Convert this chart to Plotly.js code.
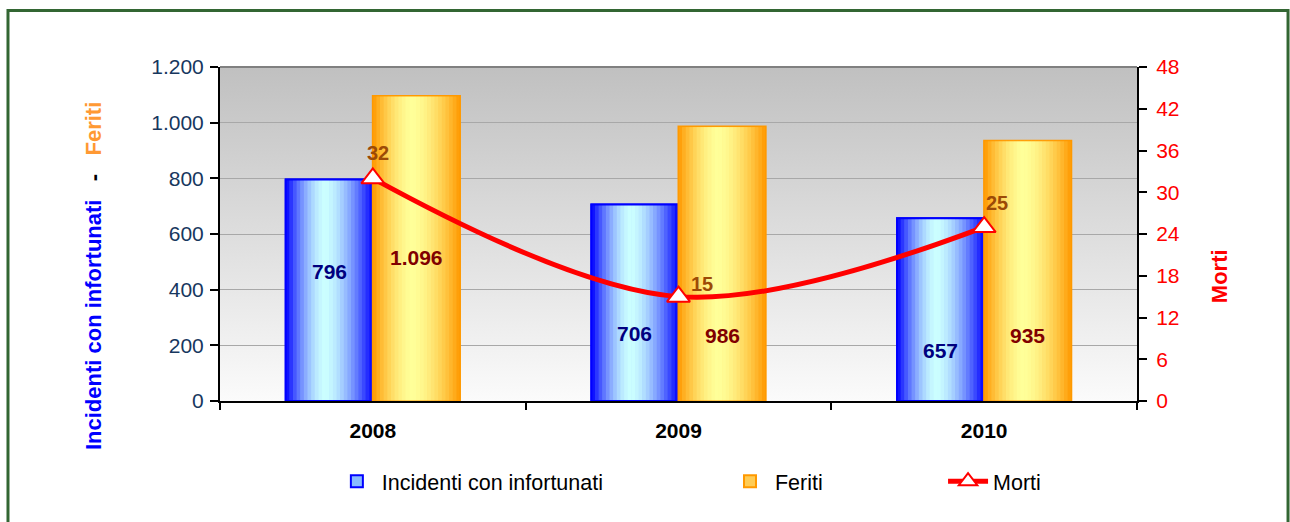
<!DOCTYPE html>
<html>
<head>
<meta charset="utf-8">
<script src="https://cdn.plot.ly/plotly-3.0.1.min.js"></script>
<style>
  html, body { margin: 0; padding: 0; background: #ffffff; }
  #chart { width: 1290px; height: 522px; }
</style>
</head>
<body>
<div id="chart"></div>
<script>
// ---------------- DATA ----------------
const years = ['2008', '2009', '2010'];
const incidenti = [796, 706, 657];
const feriti = [1096, 986, 935];
const morti = [32, 15, 25];

const seriesNames = ['Incidenti con infortunati', 'Feriti', 'Morti'];
const leftTitle = ['Incidenti con infortunati', 'Feriti'];
const rightTitle = 'Morti';

// ---------------- HELPERS ----------------
function fmt(n) { return String(n).replace(/\B(?=(\d{3})+(?!\d))/g, '.'); }
function hexToRgb(h) { h = h.replace('#', ''); return [0, 2, 4].map(i => parseInt(h.substr(i, 2), 16)); }
function mix(a, b, f) {
  const A = hexToRgb(a), B = hexToRgb(b);
  return 'rgb(' + A.map((v, i) => Math.round(v + (B[i] - v) * f)).join(',') + ')';
}
function profile(t) {
  const peak = 0.45;
  const d = t < peak ? (peak - t) / peak : (t - peak) / (1 - peak);
  return Math.max(0, 1 - Math.pow(d, 1.6));
}

const FONT = 'Liberation Sans, Arial, sans-serif';
const BAR_W = 0.285;
const NSTRIP = 24;

const traces = [];

function addGradientBars(values, offset0, edge, light, outline, outlineW, name, legendId, legendColor) {
  traces.push({
    type: 'bar', x: years, y: values, name: name, legend: legendId,
    offset: offset0, width: BAR_W,
    marker: { color: legendColor, line: { color: outline, width: 2 } },
    hoverinfo: 'skip'
  });
  const w = BAR_W / NSTRIP;
  for (let i = 0; i < NSTRIP; i++) {
    const t = (i + 0.5) / NSTRIP;
    traces.push({
      type: 'bar', x: years, y: values, showlegend: false,
      offset: offset0 + i * w, width: Math.min(w * 1.15, BAR_W - i * w),
      marker: { color: mix(edge, light, profile(t)), line: { width: 0 } },
      hoverinfo: 'skip'
    });
  }
  traces.push({
    type: 'bar', x: years, y: values, showlegend: false,
    offset: offset0, width: BAR_W,
    marker: { color: 'rgba(0,0,0,0)', line: { color: outline, width: outlineW } },
    hoverinfo: 'skip'
  });
}

addGradientBars(incidenti, -BAR_W, '#0000ff', '#ccffff', '#0000ff', 2, seriesNames[0], 'legend', '#88bbff');
addGradientBars(feriti, 0, '#ff9900', '#ffff99', '#ff9900', 1, seriesNames[1], 'legend2', '#ffcc55');

traces.push({
  type: 'scatter', mode: 'lines+markers', x: years, y: morti, yaxis: 'y2',
  name: seriesNames[2], legend: 'legend3',
  line: { color: '#ff0000', width: 5, shape: 'spline', smoothing: 1 },
  marker: { symbol: 'triangle-up', size: 20, color: '#ffffff', line: { color: '#ff0000', width: 2 } },
  cliponaxis: false,
  hoverinfo: 'skip'
});

// ---------------- LAYOUT ----------------
const bgSvg = 'data:image/svg+xml;utf8,' + encodeURIComponent(
  '<svg xmlns="http://www.w3.org/2000/svg" width="100" height="100" preserveAspectRatio="none">' +
  '<defs><linearGradient id="g" x1="0" y1="0" x2="0" y2="1">' +
  '<stop offset="0" stop-color="#c0c0c0"/><stop offset="1" stop-color="#fbfbfb"/>' +
  '</linearGradient></defs><rect width="100" height="100" fill="url(#g)"/></svg>');

// bar label positions (left axis units)
const incLabelY = [467, 244, 180];
const ferLabelY = [517, 237, 237];
// Morti label pixel shifts
const mortiShiftX = [5, 23, 13];
const mortiShiftY = [25, 13, 24];

const annotations = [];
years.forEach((yr, i) => {
  annotations.push({
    x: i - BAR_W / 2, y: incLabelY[i], xref: 'x', yref: 'y', text: fmt(incidenti[i]),
    showarrow: false, font: { family: FONT, size: 21, color: '#000080', weight: 'bold' }
  });
  annotations.push({
    x: i + BAR_W / 2, y: ferLabelY[i], xref: 'x', yref: 'y', text: fmt(feriti[i]),
    showarrow: false, font: { family: FONT, size: 21, color: '#800000', weight: 'bold' }
  });
  annotations.push({
    x: i, y: morti[i], xref: 'x', yref: 'y2', text: String(morti[i]),
    xshift: mortiShiftX[i], yshift: mortiShiftY[i],
    showarrow: false, font: { family: FONT, size: 20, color: '#9c4a06', weight: 'bold' }
  });
});
annotations.push({
  xref: 'paper', yref: 'paper', x: -0.1385, y: 0.374, xanchor: 'center', yanchor: 'middle',
  textangle: -90, showarrow: false,
  text: '<span style="color:#0000ff">' + leftTitle[0] + '</span>   -   <span style="color:#ff9933">' + leftTitle[1] + '</span>',
  font: { family: FONT, size: 22, color: '#000000', weight: 'bold' }
});
annotations.push({
  xref: 'paper', yref: 'paper', x: 1.0895, y: 0.374, xanchor: 'center', yanchor: 'middle',
  textangle: -90, showarrow: false, text: rightTitle,
  font: { family: FONT, size: 22, color: '#ff0000', weight: 'bold' }
});

const legendBase = {
  orientation: 'h', yanchor: 'middle', xanchor: 'left', y: -0.24,
  bgcolor: 'rgba(0,0,0,0)', itemwidth: 40,
  font: { family: FONT, size: 21.5, color: '#000000' }
};

const layout = {
  width: 1290, height: 522,
  margin: { l: 220, r: 153, t: 67, b: 121 },
  paper_bgcolor: '#ffffff',
  plot_bgcolor: '#e6e6e6',
  separators: ',.',
  barmode: 'overlay',
  font: { family: FONT, size: 20, color: '#000000' },
  xaxis: {
    type: 'category', range: [-0.5, 2.5],
    showline: true, linecolor: '#000000', linewidth: 2,
    ticks: 'outside', tickson: 'boundaries', ticklen: 7, tickcolor: '#000000', tickwidth: 2,
    tickfont: { family: FONT, size: 21, color: '#000000', weight: 'bold' },
    ticklabelstandoff: 10,
    showgrid: false, zeroline: false
  },
  yaxis: {
    range: [0, 1200], dtick: 200, tickformat: ',d',
    showline: true, linecolor: '#000000', linewidth: 2,
    ticks: 'outside', ticklen: 8, tickcolor: '#000000', tickwidth: 2,
    tickfont: { family: FONT, size: 21, color: '#17375e' },
    ticklabelstandoff: 2,
    showgrid: true, gridcolor: '#a8a8a8', gridwidth: 1, zeroline: false
  },
  yaxis2: {
    overlaying: 'y', side: 'right', range: [0, 48], dtick: 6,
    showline: true, linecolor: '#000000', linewidth: 2,
    ticks: 'outside', ticklen: 8, tickcolor: '#000000', tickwidth: 2,
    tickfont: { family: FONT, size: 21, color: '#ff0000' },
    ticklabelstandoff: 5,
    showgrid: false, zeroline: false
  },
  images: [{
    source: bgSvg, xref: 'paper', yref: 'paper', x: 0, y: 1, sizex: 1, sizey: 1,
    xanchor: 'left', yanchor: 'top', sizing: 'stretch', layer: 'below'
  }],
  shapes: [
    { type: 'line', xref: 'paper', yref: 'paper', x0: 0, x1: 1, y0: 1, y1: 1,
      line: { color: '#808080', width: 2 } },
    { type: 'rect', xref: 'paper', yref: 'paper', x0: -0.2312, x1: 1.1647, y0: -0.40, y1: 1.1692,
      line: { color: '#336633', width: 3 }, fillcolor: 'rgba(0,0,0,0)', layer: 'above' }
  ],
  annotations: annotations,
  legend: Object.assign({}, legendBase, { x: 0.122 }),
  legend2: Object.assign({}, legendBase, { x: 0.5507 }),
  legend3: Object.assign({}, legendBase, { x: 0.7885 }),
  showlegend: true
};

Plotly.newPlot('chart', traces, layout, { displayModeBar: false, staticPlot: true });
</script>
</body>
</html>
